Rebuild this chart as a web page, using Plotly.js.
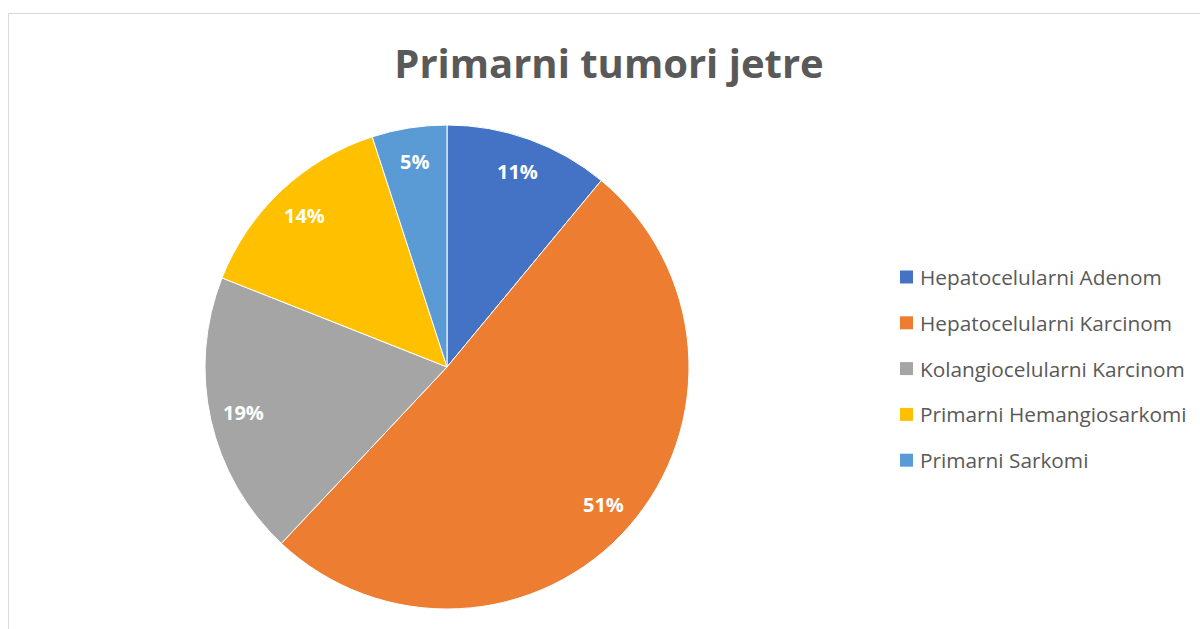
<!DOCTYPE html>
<html>
<head>
<meta charset="utf-8">
<script src="https://cdn.plot.ly/plotly-3.0.1.min.js"></script>
<style>
  html, body { margin: 0; padding: 0; background: #ffffff; }
  #wrap { position: relative; width: 1200px; height: 629px; overflow: hidden; }
  #chart { width: 1200px; height: 629px; }
  #frame { position: absolute; left: 8px; top: 13px; width: 1300px; height: 700px;
           border: 1.5px solid #d9d9d9; pointer-events: none; }
</style>
</head>
<body>
<div id="wrap">
  <div id="chart"></div>
  <div id="frame"></div>
</div>
<script>
const categories = [
  "Hepatocelularni Adenom",
  "Hepatocelularni Karcinom",
  "Kolangiocelularni Karcinom",
  "Primarni Hemangiosarkomi",
  "Primarni Sarkomi"
];
const values = [11, 51, 19, 14, 5];
const colors = ["#4472C4", "#ED7D31", "#A5A5A5", "#FFC000", "#5B9BD5"];
const chartTitle = "Primarni tumori jetre";

const W = 1200, H = 629;
const cx = 447, cy = 367, R = 242;
const px = x => x / W;
const py = y => 1 - y / H;
const FONT = "'Open Sans', 'Noto Sans', sans-serif";

const trace = {
  type: "pie",
  labels: categories,
  values: values,
  sort: false,
  direction: "clockwise",
  rotation: 0,
  marker: { colors: colors, line: { color: "#ffffff", width: 1 } },
  textinfo: "none",
  hoverinfo: "label+percent",
  showlegend: false,
  domain: { x: [px(cx - R), px(cx + R)], y: [py(cy + R), py(cy - R)] }
};

const total = values.reduce((a, b) => a + b, 0);
const annotations = [];
const shapes = [];
let cum = 0;
values.forEach((v, i) => {
  const mid = (cum + v / 2) / total * 2 * Math.PI;
  cum += v;
  const r = 0.86 * R;
  const lx = cx + r * Math.sin(mid);
  const ly = cy - r * Math.cos(mid);
  annotations.push({
    x: px(lx), y: py(ly), xref: "paper", yref: "paper",
    text: "<b>" + Math.round(v / total * 100) + "%</b>", showarrow: false,
    font: { family: FONT, size: 20, color: "#ffffff" },
    xanchor: "center", yanchor: "middle"
  });
});

// legend drawn as shapes + text
const legX = 900, legY0 = 277, legStep = 45.8, sq = 13;
categories.forEach((c, i) => {
  const yy = legY0 + i * legStep;
  shapes.push({
    type: "rect", xref: "paper", yref: "paper",
    x0: px(legX), x1: px(legX + sq), y0: py(yy + sq / 2), y1: py(yy - sq / 2),
    fillcolor: colors[i], line: { width: 0 }
  });
  annotations.push({
    x: px(legX + sq + 5), y: py(yy), xref: "paper", yref: "paper",
    text: c, showarrow: false, xanchor: "left", yanchor: "middle",
    font: { family: FONT, size: 20.8, color: "#595959" }
  });
});

const layout = {
  width: W, height: H,
  margin: { l: 0, r: 0, t: 0, b: 0 },
  paper_bgcolor: "#ffffff",
  title: {
    text: "<b>" + chartTitle + "</b>",
    x: px(609), xanchor: "center",
    y: py(64), yanchor: "middle",
    font: { family: FONT, size: 40, color: "#595959" }
  },
  annotations: annotations,
  shapes: shapes,
  showlegend: false
};

Plotly.newPlot("chart", [trace], layout, { displayModeBar: false });
</script>
</body>
</html>
